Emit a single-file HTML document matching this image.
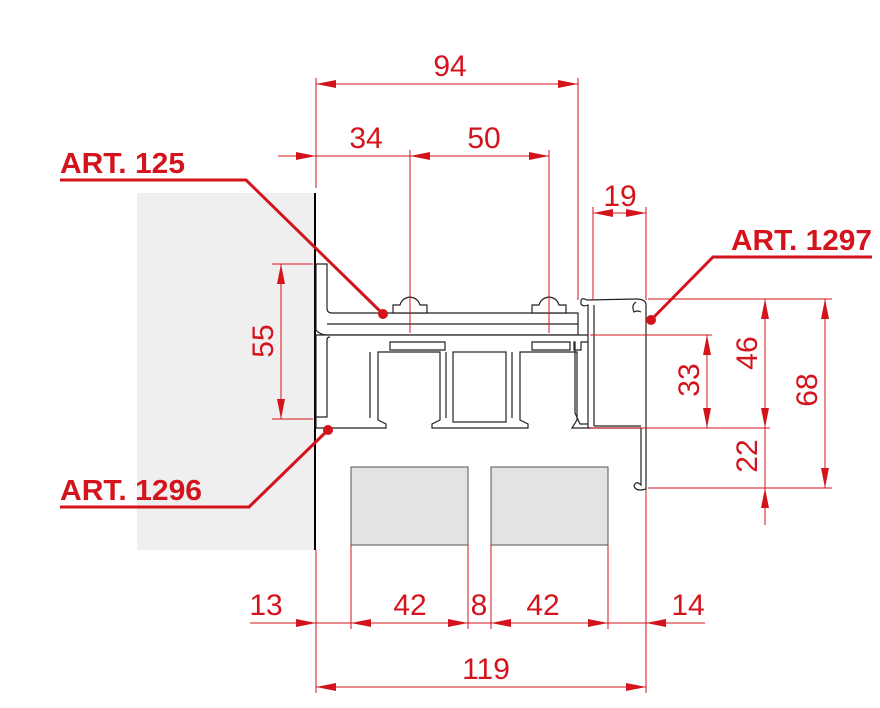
<!DOCTYPE html>
<html><head><meta charset="utf-8"><style>
html,body{margin:0;padding:0;background:#fff;width:880px;height:708px;overflow:hidden}
svg{display:block}
text{font-family:"Liberation Sans",sans-serif;fill:#d4141c}
</style></head><body>
<svg width="880" height="708" viewBox="0 0 880 708" xmlns="http://www.w3.org/2000/svg">
<defs>
<marker id="a" viewBox="0 0 20 8" refX="20" refY="4" markerWidth="20" markerHeight="8" markerUnits="userSpaceOnUse" orient="auto-start-reverse"><path d="M0,0L20,4L0,8z" fill="#d4141c"/></marker>
</defs>
<rect x="137" y="193" width="178" height="357" fill="#efefef"/>
<line x1="315" y1="193" x2="315" y2="550" stroke="#000" stroke-width="2"/>
<rect x="351" y="467" width="117" height="78" fill="#e3e3e3" stroke="#555" stroke-width="1"/>
<rect x="491" y="467" width="117" height="78" fill="#e3e3e3" stroke="#555" stroke-width="1"/>
<g fill="#fff" stroke="#222" stroke-width="1.2">
<path d="M316,264 H327 V308 Q327,313 332,313 H578 V335 H327 Q320,335 316,330 Z"/>
<line x1="327" y1="324" x2="578" y2="324"/>
<path d="M316,335 H590 V342 H581 V350 H574 V342 H575 V413 L580,424 H590 V428 H572 L577,420 V352 H520 V420 L528,424 V428 H432 V424 L440,420 V352 H378 V420 L386,424 V428 H316 Z"/>
<path d="M316,417 H327 V340 Q327,337 330,337" fill="none"/>
<path d="M370,352 V418 M446,352 V418 M512,352 V418" fill="none"/>
<rect x="453" y="352" width="53" height="70"/>
<path d="M390,342 H445 V350 H390 Z M532,342 H570 V350 H532 Z"/>
<path d="M400,305 Q402,298 410,297 Q418,298 420,305 H427 V313 H393 V305 Z"/>
<path d="M539,305 Q541,298 549,297 Q557,298 559,305 H566 V313 H532 V305 Z"/>
<path d="M587,300 Q580,296 581,304 Q583,307 588,305 V428 H641 V485 Q636,480 634,486 Q636,492 646,489 V304 Q645,299 636,299 Z"/>
<line x1="594" y1="305" x2="594" y2="426"/>
<line x1="594" y1="426" x2="641" y2="426"/>
<path d="M636,302 Q631,305 634,312 Q637,310 641,312" fill="none"/>
</g>
<g stroke="#d4141c" stroke-width="1" fill="none">
<line x1="316" y1="78" x2="316" y2="188"/>
<line x1="578" y1="78" x2="578" y2="300"/>
<line x1="410" y1="150" x2="410" y2="333"/>
<line x1="549" y1="150" x2="549" y2="333"/>
<line x1="593" y1="207" x2="593" y2="300"/>
<line x1="646" y1="207" x2="646" y2="300"/>
<line x1="272" y1="264" x2="313" y2="264"/>
<line x1="272" y1="419" x2="313" y2="419"/>
<line x1="648" y1="299" x2="832" y2="299"/>
<line x1="590" y1="335" x2="712" y2="335"/>
<line x1="590" y1="428" x2="770" y2="428"/>
<line x1="648" y1="488" x2="832" y2="488"/>
<line x1="316" y1="550" x2="316" y2="693"/>
<line x1="351" y1="545" x2="351" y2="629"/>
<line x1="468" y1="545" x2="468" y2="629"/>
<line x1="491" y1="545" x2="491" y2="629"/>
<line x1="608" y1="545" x2="608" y2="629"/>
<line x1="646" y1="490" x2="646" y2="693"/>
<line x1="316" y1="84" x2="578" y2="84" marker-start="url(#a)" marker-end="url(#a)"/>
<line x1="278" y1="156" x2="316" y2="156" marker-end="url(#a)"/>
<line x1="316" y1="156" x2="410" y2="156"/>
<line x1="410" y1="156" x2="549" y2="156" marker-start="url(#a)" marker-end="url(#a)"/>
<line x1="593" y1="213" x2="646" y2="213" marker-start="url(#a)" marker-end="url(#a)"/>
<line x1="281" y1="264" x2="281" y2="419" marker-start="url(#a)" marker-end="url(#a)"/>
<line x1="707" y1="335" x2="707" y2="428" marker-start="url(#a)" marker-end="url(#a)"/>
<line x1="765" y1="299" x2="765" y2="428" marker-start="url(#a)" marker-end="url(#a)"/>
<line x1="765" y1="525" x2="765" y2="488" marker-end="url(#a)"/>
<line x1="765" y1="428" x2="765" y2="488"/>
<line x1="825" y1="299" x2="825" y2="488" marker-start="url(#a)" marker-end="url(#a)"/>
<line x1="250" y1="623" x2="316" y2="623" marker-end="url(#a)"/>
<line x1="316" y1="623" x2="351" y2="623"/>
<line x1="351" y1="623" x2="468" y2="623" marker-start="url(#a)" marker-end="url(#a)"/>
<line x1="468" y1="623" x2="491" y2="623"/>
<line x1="491" y1="623" x2="608" y2="623" marker-start="url(#a)" marker-end="url(#a)"/>
<line x1="608" y1="623" x2="646" y2="623"/>
<line x1="705" y1="623" x2="646" y2="623" marker-end="url(#a)"/>
<line x1="316" y1="687" x2="646" y2="687" marker-start="url(#a)" marker-end="url(#a)"/>
</g>
<g stroke="#d4141c" stroke-width="3" fill="none">
<polyline points="60,180 246,180 383,314"/>
<polyline points="872,257 713,257 651,320"/>
<polyline points="60,507 249,507 328,430"/>
</g>
<g fill="#d4141c"><circle cx="383" cy="314" r="5"/><circle cx="651" cy="320" r="5"/><circle cx="328" cy="430" r="5"/></g>
<g font-size="30">
<text x="450" y="76" text-anchor="middle">94</text>
<text x="366" y="148" text-anchor="middle">34</text>
<text x="484" y="148" text-anchor="middle">50</text>
<text x="620" y="206" text-anchor="middle">19</text>
<text x="266" y="615" text-anchor="middle">13</text>
<text x="410" y="615" text-anchor="middle">42</text>
<text x="479" y="615" text-anchor="middle">8</text>
<text x="543" y="615" text-anchor="middle">42</text>
<text x="688" y="615" text-anchor="middle">14</text>
<text x="486" y="679" text-anchor="middle">119</text>
<text transform="translate(273,341) rotate(-90)" text-anchor="middle">55</text>
<text transform="translate(699,380) rotate(-90)" text-anchor="middle">33</text>
<text transform="translate(757,353) rotate(-90)" text-anchor="middle">46</text>
<text transform="translate(757,456) rotate(-90)" text-anchor="middle">22</text>
<text transform="translate(817,390) rotate(-90)" text-anchor="middle">68</text>
</g>
<g font-size="29" font-weight="bold">
<text x="60" y="173" textLength="125" lengthAdjust="spacingAndGlyphs">ART. 125</text>
<text x="731" y="250" textLength="141" lengthAdjust="spacingAndGlyphs">ART. 1297</text>
<text x="60" y="500" textLength="142" lengthAdjust="spacingAndGlyphs">ART. 1296</text>
</g>
</svg>
</body></html>
